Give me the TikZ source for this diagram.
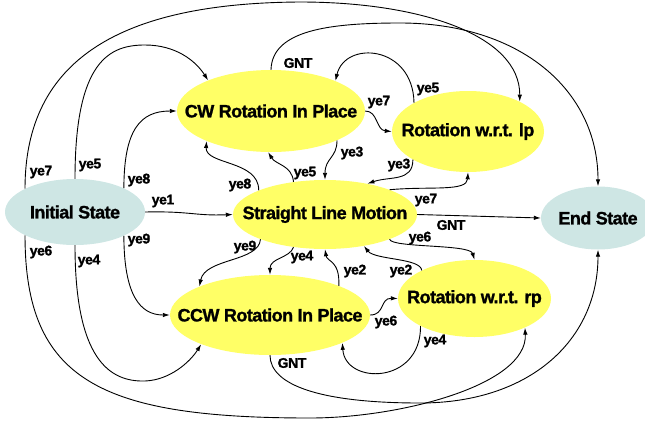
\documentclass[tikz,border=0pt]{standalone}
\usepackage{fontspec}
\setmainfont{Liberation Sans}[LetterSpace=-3]
\newfontfamily\heavyfont{Liberation Sans Bold}[LetterSpace=-3,FakeBold=1.2]
\usetikzlibrary{shapes.geometric,arrows.meta}
\definecolor{stateyellow}{RGB}{255,255,102}
\definecolor{stateteal}{RGB}{206,230,228}
\begin{document}
\begin{tikzpicture}[x=1pt,y=-1pt,
  st/.style={ellipse,inner sep=0pt,label={[font=\fontsize{18}{20}\heavyfont,inner sep=0pt]center:#1}},
  yel/.style={st={#1},fill=stateyellow},
  tea/.style={st={#1},fill=stateteal},
  lbl/.style={font=\fontsize{14}{16}\heavyfont,inner sep=0pt},
  arr/.style={draw,line width=0.9pt,-{Latex[length=7pt,width=4.5pt]}}]
\clip (0,0) rectangle (645,421);
% states
\node[tea={Initial State},minimum width=140pt,minimum height=66pt] (init) at (75,212) {};
\node[yel={CW Rotation In Place},minimum width=188pt,minimum height=82pt] (cw) at (271,111) {};
\node[yel={Rotation w.r.t. lp},minimum width=152pt,minimum height=81pt] (lp) at (468,131.5) {};
\node[yel={Straight Line Motion},minimum width=184pt,minimum height=69pt] (slm) at (325,214.5) {};
\node[tea={End State},minimum width=114pt,minimum height=63pt] (endst) at (598,218) {};
\node[yel={CCW Rotation In Place},minimum width=200pt,minimum height=80pt] (ccw) at (270,315) {};
\node[yel={Rotation w.r.t. rp},minimum width=153pt,minimum height=77pt] (rp) at (474.5,298.5) {};
% transitions
\draw[arr] (init.0) .. controls (190,211) and (195,216) .. (slm.180);
\draw[arr] (init.155) .. controls (25,60) and (120,3) .. (300,2) .. controls (420,2) and (520,35) .. (lp.30);
\draw[arr] (cw.90) .. controls (272,30) and (330,23) .. (400,23) .. controls (520,23) and (598,90) .. (endst.90);
\draw[arr] (init.90) .. controls (75,60) and (110,45) .. (145,45) .. controls (175,45) and (195,60) .. (cw.154);
\draw[arr] (init.26) .. controls (124,130) and (140,111) .. (cw.180);
\draw[arr] (init.205) .. controls (25,380) and (100,418) .. (310,418) .. controls (400,418) and (528,385) .. (rp.330);
\draw[arr] (ccw.270) .. controls (270,385) and (320,403) .. (420,403) .. controls (530,403) and (598,340) .. (endst.270);
\draw[arr] (init.270) .. controls (75,360) and (110,382) .. (145,381) .. controls (170,380) and (190,362) .. (ccw.203);
\draw[arr] (init.334) .. controls (124,295) and (140,315) .. (ccw.180);
\draw[arr] (slm.160) .. controls (259,160) and (205,165) .. (cw.205);
\draw[arr] (slm.134) .. controls (292,165) and (276,165) .. (cw.266);
\draw[arr] (cw.336) .. controls (337,158) and (325,158) .. (slm.90);
\draw[arr] (cw.0) .. controls (378,111) and (376,130) .. (lp.180);
\draw[arr] (lp.152) .. controls (413,45) and (345,40) .. (cw.25);
\draw[arr] (lp.207) .. controls (413,182) and (390,176) .. (slm.36);
\draw[arr] (slm.21) .. controls (430,186) and (467,192) .. (lp.270);
\draw[arr] (slm.0) -- (endst.180);
\draw[arr] (slm.339) .. controls (392,248) and (470,244) .. (rp.90);
\draw[arr] (rp.152) .. controls (421,258) and (375,260) .. (slm.321);
\draw[arr] (ccw.23) .. controls (340,260) and (327,262) .. (slm.270);
\draw[arr] (slm.226) .. controls (290,258) and (270,258) .. (ccw.90);
\draw[arr] (slm.201) .. controls (259,262) and (205,258) .. (ccw.158);
\draw[arr] (ccw.0) .. controls (385,315) and (380,298) .. (rp.180);
\draw[arr] (rp.207) .. controls (421,385) and (345,385) .. (ccw.339);
% labels
\node[lbl] (l1) at (163,201) {ye1};
\node[lbl] (l2) at (41,172) {ye7};
\node[lbl] (l3) at (90,165) {ye5};
\node[lbl] (l4) at (139,180) {ye8};
\node[lbl] (l5) at (41,252) {ye6};
\node[lbl] (l6) at (89,261) {ye4};
\node[lbl] (l7) at (139,240) {ye9};
\node[lbl] (l8) at (298,63) {GNT};
\node[lbl] (l9) at (240,185) {ye8};
\node[lbl] (l10) at (305,173) {ye5};
\node[lbl] (l11) at (352,153) {ye3};
\node[lbl] (l12) at (379,102) {ye7};
\node[lbl] (l13) at (428,89) {ye5};
\node[lbl] (l14) at (399,165) {ye3};
\node[lbl] (l15) at (426,200) {ye7};
\node[lbl] (l16) at (451,225) {GNT};
\node[lbl] (l17) at (420,238) {ye6};
\node[lbl] (l18) at (401,271) {ye2};
\node[lbl] (l19) at (355,271) {ye2};
\node[lbl] (l20) at (302,257) {ye4};
\node[lbl] (l21) at (245,247) {ye9};
\node[lbl] (l22) at (386,322) {ye6};
\node[lbl] (l23) at (435,341) {ye4};
\node[lbl] (l24) at (292,363) {GNT};
\end{tikzpicture}
\end{document}
